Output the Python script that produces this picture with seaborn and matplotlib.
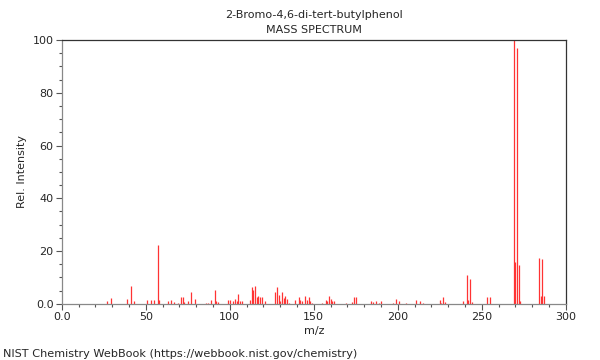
import numpy as np
import pandas as pd
import matplotlib
matplotlib.use("Agg")
import matplotlib.pyplot as plt
import seaborn as sns
from matplotlib.ticker import MultipleLocator, FuncFormatter

# peaks (m/z, relative intensity)
mz = [27, 29, 39, 41, 43, 51, 53, 55, 57, 58, 63, 65, 67, 69, 71, 72, 73, 75,
      77, 79, 86, 87, 89, 91, 92, 93, 99, 100, 102, 103, 104, 105, 106, 107,
      112, 113, 114, 115, 116, 117, 118, 119, 121, 127, 128, 129, 130, 131,
      132, 133, 134, 135, 139, 141, 142, 143, 145, 146, 147, 148, 149, 155,
      157, 158, 159, 160, 161, 162, 169, 173, 174, 175, 184, 185, 187, 189,
      190, 197, 199, 201, 205, 211, 213, 215, 225, 226, 227, 228, 239, 241,
      242, 243, 244, 253, 255, 269, 270, 271, 272, 273, 284, 285, 286, 287]
intensity = [1.0, 2.2, 2.0, 6.8, 1.0, 1.5, 1.5, 1.5, 22.3, 1.5, 1.0, 1.5, 0.8,
             0.5, 2.5, 2.5, 0.8, 1.0, 4.3, 1.8, 0.5, 0.5, 1.5, 5.3, 1.2, 0.8,
             1.5, 1.5, 1.0, 2.0, 1.0, 3.7, 1.2, 1.2, 1.5, 6.4, 5.3, 6.8, 2.5,
             3.0, 2.5, 2.5, 1.0, 4.5, 6.3, 3.5, 1.0, 4.3, 2.3, 2.8, 2.0, 0.5,
             1.5, 2.5, 1.5, 1.0, 2.9, 1.5, 2.5, 1.0, 0.3, 0.5, 1.5, 1.0, 3.1,
             2.0, 1.0, 1.0, 0.5, 0.8, 2.7, 2.7, 1.0, 0.8, 1.0, 0.5, 1.0, 0.5,
             1.7, 1.0, 0.5, 1.5, 1.0, 0.5, 1.3, 0.5, 2.7, 0.8, 1.0, 11.0, 1.5,
             9.5, 0.8, 2.7, 2.7, 100.0, 16.0, 97.0, 14.6, 1.0, 17.4, 3.0, 17.0,
             2.8]

compound = "2-Bromo-4,6-di-tert-butylphenol"
source = "NIST Chemistry WebBook (https://webbook.nist.gov/chemistry)"

df = pd.DataFrame({"mz": mz, "intensity": intensity})

sns.set_theme(style="ticks")
plt.rcParams["font.family"] = ["DejaVu Sans"]

fig = plt.figure(figsize=(6, 3.6), dpi=100)
ax = fig.add_axes([0.103, 0.156, 0.84, 0.733])

ax.vlines(df["mz"], 0, df["intensity"], color="#ff3333", linewidth=0.9)

ax.set_xlim(0, 300)
ax.set_ylim(0, 100)
ax.xaxis.set_major_locator(MultipleLocator(50))
ax.xaxis.set_minor_locator(MultipleLocator(10))
ax.yaxis.set_major_locator(MultipleLocator(20))
ax.yaxis.set_minor_locator(MultipleLocator(5))
fmt = FuncFormatter(lambda v, p: "0.0" if v == 0 else f"{v:g}")
ax.xaxis.set_major_formatter(fmt)
ax.yaxis.set_major_formatter(fmt)
ax.tick_params(axis="both", which="major", labelsize=8, length=4, width=0.8,
               color="#555555", pad=2)
ax.tick_params(axis="both", which="minor", length=2.5, width=0.8, color="#555555")
for side in ["left", "bottom"]:
    ax.spines[side].set_color("#888888")
for side in ["top", "right"]:
    ax.spines[side].set_color("#333333")
for s in ax.spines.values():
    s.set_linewidth(0.9)

ax.set_xlabel("m/z", fontsize=8, labelpad=3)
ax.set_ylabel("Rel. Intensity", fontsize=8, labelpad=4)

# titles are centred over the plot area
ax.text(0.5, 1.096, compound, transform=ax.transAxes, ha="center", va="center", fontsize=8)
ax.text(0.5, 1.036, "MASS SPECTRUM", transform=ax.transAxes, ha="center", va="center", fontsize=8)
fig.text(0.005, 0.017, source, ha="left", va="center", fontsize=8.1)

fig.savefig("out.png", dpi=100)
